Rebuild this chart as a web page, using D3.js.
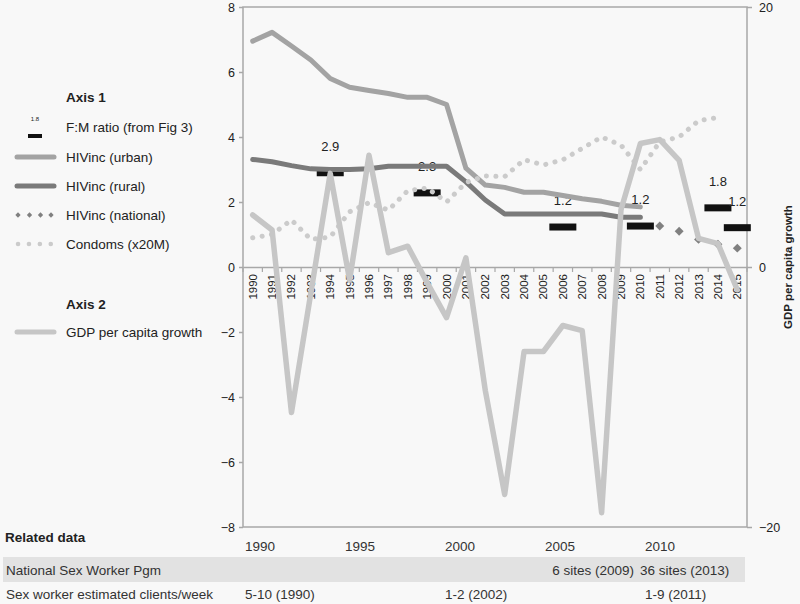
<!DOCTYPE html>
<html>
<head>
<meta charset="utf-8">
<script src="https://cdn.jsdelivr.net/npm/d3@7"></script>
<style>
  body { margin: 0; background: #f8f8f8; }
  svg { display: block; }
</style>
</head>
<body>
<div id="chart"></div>
<script>
// Categories (one per year on the main axis)
const years = [1990, 1991, 1992, 1993, 1994, 1995, 1996, 1997, 1998, 1999, 2000, 2001, 2002,
               2003, 2004, 2005, 2006, 2007, 2008, 2009, 2010, 2011, 2012, 2013, 2014, 2015];

// Axis 1 series
const urbanYears = years.slice(0, 21);
const urbanVals = [6.95, 7.22, 6.8, 6.37, 5.8, 5.53, 5.43, 5.34, 5.22, 5.22, 5.0,
                   3.04, 2.52, 2.45, 2.3, 2.3, 2.2, 2.1, 2.02, 1.9, 1.85];
const ruralYears = years.slice(0, 21);
const ruralVals = [3.31, 3.24, 3.12, 3.02, 3.0, 3.0, 3.02, 3.1, 3.1, 3.1, 3.1,
                   2.62, 2.06, 1.63, 1.63, 1.63, 1.63, 1.63, 1.63, 1.53, 1.53];
const nationalYears = [2011, 2012, 2013, 2014, 2015];
const nationalVals = [1.26, 1.1, 0.85, 0.7, 0.58];
const condomYears = years.slice(0, 25);
const condomVals = [0.9, 1.0, 1.45, 0.85, 0.92, 1.7, 1.98, 1.75, 2.35, 2.43, 2.0, 2.6, 2.8,
                    2.78, 3.3, 3.14, 3.3, 3.65, 4.0, 3.75, 3.0, 3.85, 4.0, 4.5, 4.6];
const ratioYears = [1994, 1999, 2006, 2010, 2014, 2015];
const ratioVals = [2.9, 2.28, 1.23, 1.26, 1.82, 1.21];
const ratioLabels = ["2.9", "2.3", "1.2", "1.2", "1.8", "1.2"];

// Axis 2 series
const gdpVals = [4.0, 2.85, -11.2, -2.0, 7.2, -1.0, 8.6, 1.1, 1.6, -1.2, -3.9, 0.7, -9.5,
                 -17.5, -6.5, -6.5, -4.5, -4.9, -18.9, 4.4, 9.5, 9.8, 8.2, 2.2, 1.8, -1.75];

// Tick labels
const leftTicks = [-8, -6, -4, -2, 0, 2, 4, 6, 8];
const rightTicks = [-20, 0, 20];
const tableYears = [1990, 1995, 2000, 2005, 2010];

const width = 800, height = 604;
const font = "'Liberation Sans', Arial, sans-serif";
const plot = { left: 243, right: 747, top: 7, bottom: 527 };

const c_urban = "#a3a3a3", c_rural = "#7a7a7a", c_nat = "#808080",
      c_condom = "#cbcbcb", c_gdp = "#c6c6c6", c_axis = "#a8a8a8", c_text = "#222";

const svg = d3.select("#chart").append("svg")
    .attr("width", width).attr("height", height);

svg.append("rect").attr("width", width).attr("height", height).attr("fill", "#f8f8f8");

// Scales
const x = d3.scaleBand().domain(years).range([plot.left, plot.right]).padding(0);
const cx = d => x(d) + x.bandwidth() / 2;
const yL = d3.scaleLinear().domain([-8, 8]).range([plot.bottom, plot.top]);
const yR = d3.scaleLinear().domain([-20, 20]).range([plot.bottom, plot.top]);

// Plot box
svg.append("rect")
    .attr("x", plot.left).attr("y", plot.top)
    .attr("width", plot.right - plot.left).attr("height", plot.bottom - plot.top)
    .attr("fill", "none").attr("stroke", c_axis).attr("stroke-width", 1.5);

// Left axis
const gL = svg.append("g")
    .attr("transform", `translate(${plot.left},0)`)
    .call(d3.axisLeft(yL).tickValues(leftTicks).tickSize(4).tickPadding(4).tickFormat(d3.format("d")));
gL.select(".domain").remove();
gL.selectAll("line").attr("stroke", c_axis).attr("stroke-width", 1.5);
gL.selectAll("text").attr("font-family", font).style("font-size", "12.5px").attr("fill", c_text);

// Right axis
const gR = svg.append("g")
    .attr("transform", `translate(${plot.right},0)`)
    .call(d3.axisRight(yR).tickValues(rightTicks).tickSize(5).tickPadding(7));
gR.select(".domain").remove();
gR.selectAll("line").attr("stroke", c_axis).attr("stroke-width", 1.5);
gR.selectAll("text").attr("font-family", font).style("font-size", "12.5px").attr("fill", c_text);

svg.append("text")
    .attr("transform", `translate(792,${yR(0)}) rotate(-90)`)
    .attr("text-anchor", "middle")
    .attr("font-family", font).style("font-size", "11.5px").style("font-weight", "bold")
    .attr("fill", c_text)
    .text("GDP per capita growth");

// Category axis at zero
const gX = svg.append("g")
    .attr("transform", `translate(0,${yL(0)})`)
    .call(d3.axisBottom(x).tickSize(0).tickSizeOuter(0));
gX.select(".domain").attr("stroke", c_axis).attr("stroke-width", 1.5);
gX.selectAll("text")
    .attr("font-family", font).style("font-size", "11.5px").attr("fill", c_text)
    .attr("transform", "rotate(-90)")
    .attr("x", -7).attr("y", 0).attr("dy", "0.35em")
    .style("text-anchor", "end");
gX.selectAll(".bound")
    .data(years.concat([null]))
    .enter().append("line")
    .attr("class", "bound")
    .attr("x1", (d, i) => plot.left + i * x.bandwidth())
    .attr("x2", (d, i) => plot.left + i * x.bandwidth())
    .attr("y1", 0).attr("y2", 5)
    .attr("stroke", c_axis).attr("stroke-width", 1.2);

// F:M ratio bars and labels
const ratio = ratioYears.map((yr, i) => ({ yr, v: ratioVals[i], label: ratioLabels[i] }));
svg.append("g").selectAll("rect")
    .data(ratio).enter().append("rect")
    .attr("x", d => cx(d.yr) - 13.5)
    .attr("y", d => yL(d.v) - 3.5)
    .attr("width", 27).attr("height", 7)
    .attr("fill", "#111");
svg.append("g").selectAll("text")
    .data(ratio).enter().append("text")
    .attr("x", d => cx(d.yr))
    .attr("y", d => yL(d.v) - 22)
    .attr("text-anchor", "middle")
    .attr("font-family", font).style("font-size", "13px").attr("fill", c_text)
    .text(d => d.label);

function drawLine(yrs, vals, scale, color, w, dash) {
    const path = svg.append("path")
        .datum(yrs.map((yr, i) => ({ yr, v: vals[i] })))
        .attr("fill", "none")
        .attr("stroke", color)
        .attr("stroke-width", w)
        .attr("stroke-linejoin", "round")
        .attr("stroke-linecap", "round")
        .attr("d", d3.line().x(d => cx(d.yr)).y(d => scale(d.v)));
    if (dash) path.attr("stroke-dasharray", dash);
    return path;
}

drawLine(urbanYears, urbanVals, yL, c_urban, 5);
drawLine(ruralYears, ruralVals, yL, c_rural, 5);

// National diamonds
svg.append("g").selectAll("path")
    .data(nationalYears.map((yr, i) => ({ yr, v: nationalVals[i] })))
    .enter().append("path")
    .attr("d", d3.symbol(d3.symbolSquare, 40))
    .attr("transform", d => `translate(${cx(d.yr)},${yL(d.v)}) rotate(45)`)
    .attr("fill", c_nat);

drawLine(condomYears, condomVals, yL, c_condom, 5, "0.1,9.4");
drawLine(years, gdpVals, yR, c_gdp, 5.5);

// Legend
const lg = svg.append("g");
function legendText(yPos, text, bold) {
    lg.append("text")
        .attr("x", 66).attr("y", yPos).attr("dy", "0.35em")
        .attr("font-family", font).style("font-size", "13.5px")
        .style("font-weight", bold ? "bold" : "normal")
        .attr("fill", c_text).text(text);
}
legendText(97, "Axis 1", true);
legendText(127, "F:M ratio (from Fig 3)");
lg.append("text").attr("x", 35).attr("y", 121).attr("text-anchor", "middle")
    .attr("font-family", font).style("font-size", "6px").attr("fill", c_text).text("1.8");
lg.append("rect").attr("x", 28).attr("y", 134).attr("width", 14).attr("height", 4).attr("fill", "#111");
legendText(157, "HIVinc (urban)");
lg.append("line").attr("x1", 17).attr("x2", 54).attr("y1", 157).attr("y2", 157)
    .attr("stroke", c_urban).attr("stroke-width", 5).attr("stroke-linecap", "round");
legendText(186, "HIVinc (rural)");
lg.append("line").attr("x1", 17).attr("x2", 54).attr("y1", 186).attr("y2", 186)
    .attr("stroke", c_rural).attr("stroke-width", 5).attr("stroke-linecap", "round");
legendText(215, "HIVinc (national)");
[18, 29.5, 40.5, 51].forEach(px => {
    lg.append("path").attr("d", d3.symbol(d3.symbolSquare, 14))
        .attr("transform", `translate(${px},215) rotate(45)`).attr("fill", c_nat);
});
legendText(244, "Condoms (x20M)");
lg.append("line").attr("x1", 18).attr("x2", 51).attr("y1", 244).attr("y2", 244)
    .attr("stroke", c_condom).attr("stroke-width", 4.5).attr("stroke-linecap", "round")
    .attr("stroke-dasharray", "0.1,10.8");
legendText(304, "Axis 2", true);
legendText(332, "GDP per capita growth");
lg.append("line").attr("x1", 17).attr("x2", 54).attr("y1", 332).attr("y2", 332)
    .attr("stroke", c_gdp).attr("stroke-width", 5).attr("stroke-linecap", "round");

// Related data table
const t = d3.scaleLinear().domain([1990, 2015]).range([245, 745]);
svg.append("text").attr("x", 5).attr("y", 537).attr("dy", "0.35em")
    .attr("font-family", font).style("font-size", "13.5px").style("font-weight", "bold")
    .attr("fill", c_text).text("Related data");
svg.append("g").selectAll("text")
    .data(tableYears).enter().append("text")
    .attr("x", d => t(d)).attr("y", 546).attr("dy", "0.35em")
    .attr("font-family", font).style("font-size", "13.5px").attr("fill", "#333")
    .text(d => d);

svg.append("rect").attr("x", 3).attr("y", 557).attr("width", 742).attr("height", 25)
    .attr("fill", "#e2e2e2");

function cell(xPos, yPos, text, anchor) {
    svg.append("text").attr("x", xPos).attr("y", yPos).attr("dy", "0.35em")
        .attr("text-anchor", anchor || "start")
        .attr("font-family", font).style("font-size", "13.5px").attr("fill", "#333")
        .text(text);
}
cell(6, 570, "National Sex Worker Pgm");
cell(t(2010) - 11, 570, "6 sites (2009)", "end");
cell(t(2010) - 5, 570, "36 sites (2013)");
cell(6, 594, "Sex worker estimated clients/week");
cell(t(1990), 594, "5-10 (1990)");
cell(t(2000), 594, "1-2 (2002)");
cell(t(2010), 594, "1-9 (2011)");
</script>
</body>
</html>
